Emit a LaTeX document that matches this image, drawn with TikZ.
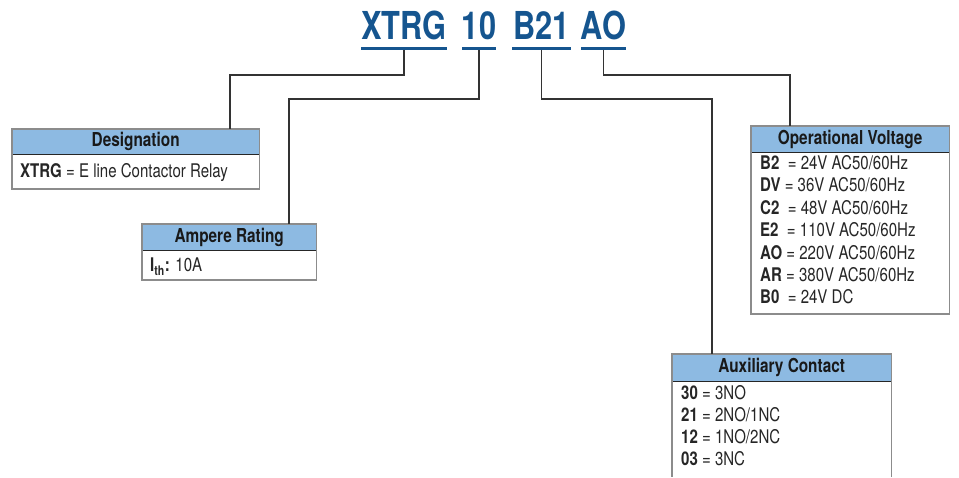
\documentclass[tikz,border=0pt]{standalone}
\usepackage{fontspec}
\setmainfont{TeX Gyre Heros}[FakeStretch=0.8]
\definecolor{tblue}{HTML}{15558F}
\definecolor{hblue}{HTML}{8DBAE2}
\definecolor{bgrey}{HTML}{8C8C8C}
\definecolor{lgrey}{HTML}{333333}
\tikzset{
  titletext/.style={inner sep=0pt, anchor=base, text=tblue, font=\fontsize{38.5}{40}\selectfont\bfseries},
  hdr/.style={fill=hblue, inner sep=0pt, anchor=north west, font=\fontsize{19.2}{20}\selectfont\bfseries, text=black!90},
  bodytext/.style={inner sep=0pt, anchor=base west, font=\fontsize{18.8}{20}\selectfont, text=black!85},
  conn/.style={draw=lgrey, line width=1.3pt},
  bord/.style={draw=bgrey, line width=1.3pt},
  hline/.style={draw=black!85, line width=1.3pt},
  uline/.style={fill=tblue}
}
\begin{document}
\begin{tikzpicture}[x=1pt,y=-1pt]
\useasboundingbox (0,0) rectangle (959,477);
% title
\node[titletext, minimum width=84pt] (t1) at (404,39) {XTRG};
\node[titletext, minimum width=34pt] (t2) at (479,39) {10};
\node[titletext, minimum width=59pt] (t3) at (541.5,39) {B21};
\node[titletext, minimum width=39pt] (t4) at (603.5,39) {AO};
\foreach \t in {t1,t2,t3,t4}{
  \fill[uline] ([yshift=-7.5pt]\t.base west) rectangle ([yshift=-10.5pt]\t.base east);
}
% boxes: headers
\node[hdr, minimum width=247pt, minimum height=25pt] (hd) at (12,129) {Designation};
\node[hdr, minimum width=174pt, minimum height=26pt] (ha) at (142,224) {Ampere Rating};
\node[hdr, minimum width=198pt, minimum height=26pt] (ho) at (751,126) {Operational Voltage};
\node[hdr, minimum width=219pt, minimum height=27pt] (hx) at (672,354) {Auxiliary Contact};
\foreach \h in {hd,ha,ho,hx}{
  \draw[bord] (\h.south west) -- (\h.north west) -- (\h.north east) -- (\h.south east);
  \draw[hline] (\h.south west) -- (\h.south east);
}
% body borders
\draw[bord] (hd.south west) |- (259,189) -| (hd.south east);
\draw[bord] (ha.south west) |- (316,280) -| (ha.south east);
\draw[bord] (ho.south west) |- (949,314) -| (ho.south east);
\draw[bord] (hx.south west) -- (hx.south west |- 0,477);
\draw[bord] (hx.south east) -- (hx.south east |- 0,477);
% body texts
\node[bodytext] (dtx) at (20,177.5) {\textbf{XTRG} = E line Contactor Relay};
\node[bodytext] (atx) at (150,271.5) {\textbf{I\textsubscript{th}:} 10A};
\node[bodytext] (o1) at (760,169.5) {\textbf{B2} \ = 24V AC50/60Hz};
\node[bodytext] (o2) at (760,191.9) {\textbf{DV} = 36V AC50/60Hz};
\node[bodytext] (o3) at (760,214.3) {\textbf{C2} \ = 48V AC50/60Hz};
\node[bodytext] (o4) at (760,236.7) {\textbf{E2} \ = 110V AC50/60Hz};
\node[bodytext] (o5) at (760,259.1) {\textbf{AO} = 220V AC50/60Hz};
\node[bodytext] (o6) at (760,281.5) {\textbf{AR} = 380V AC50/60Hz};
\node[bodytext] (o7) at (760,303.9) {\textbf{B0} \ = 24V DC};
\node[bodytext] (x1) at (681,399.5) {\textbf{30} = 3NO};
\node[bodytext] (x2) at (681,421.5) {\textbf{21} = 2NO/1NC};
\node[bodytext] (x3) at (681,443.5) {\textbf{12} = 1NO/2NC};
\node[bodytext] (x4) at (681,465.5) {\textbf{03} = 3NC};
% connectors
\coordinate (c1) at (230,75);
\coordinate (c2) at (289,99);
\coordinate (c3) at (712,99);
\coordinate (c4) at (790,75);
\draw[conn] ([yshift=-10.5pt]t1.base) |- (c1) -- (c1 |- hd.north);
\draw[conn] ([yshift=-10.5pt]t2.base) |- (c2) -- (c2 |- ha.north);
\draw[conn] ([yshift=-10.5pt]t3.base) |- (c3) -- (c3 |- hx.north);
\draw[conn] ([yshift=-10.5pt]t4.base) |- (c4) -- (c4 |- ho.north);
\end{tikzpicture}
\end{document}
